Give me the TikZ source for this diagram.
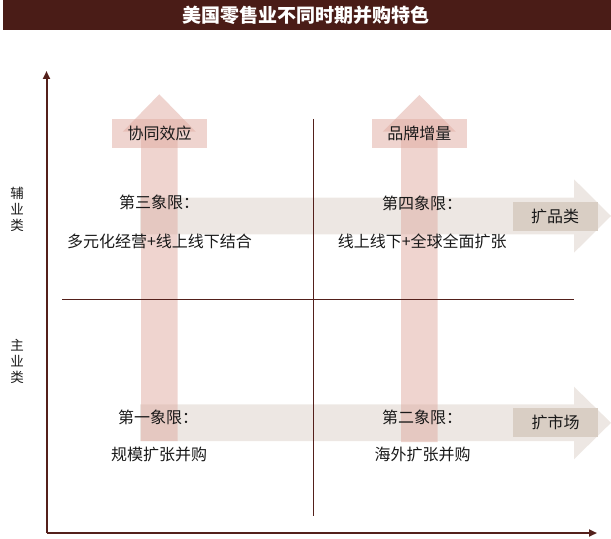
\documentclass[tikz,border=0pt]{standalone}
\usepackage{fontspec}
\setmainfont{Noto Sans CJK SC}
\usetikzlibrary{arrows.meta}
\definecolor{barbrown}{RGB}{74,28,23}
\definecolor{axisbrown}{RGB}{84,32,27}
\definecolor{shaftpink}{RGB}{223,170,160}
\definecolor{bandbeige}{RGB}{219,208,199}
\definecolor{tagbeige}{RGB}{217,206,196}
\definecolor{txtgray}{RGB}{25,25,25}

\tikzset{
  upshaft/.style={fill=shaftpink, fill opacity=0.5},
  band/.style={fill=bandbeige, fill opacity=0.5},
  pinktag/.style={fill=shaftpink, fill opacity=0.5, text opacity=1, inner sep=0pt,
    minimum width=95bp, minimum height=28.5bp, font=\fontsize{16bp}{18bp}\selectfont, text=txtgray},
  beigetag/.style={fill=tagbeige, inner sep=0pt,
    minimum width=85bp, minimum height=29.5bp, font=\fontsize{16bp}{18bp}\selectfont, text=txtgray},
  quad/.style={inner sep=0pt, font=\fontsize{16bp}{18bp}\selectfont, text=txtgray},
  sidelabel/.style={inner sep=0pt, align=center, font=\fontsize{13.5bp}{16bp}\selectfont, text=txtgray},
  axis/.style={draw=axisbrown, line width=2bp, -{Triangle[length=8bp,width=7bp]}},
  divider/.style={draw=axisbrown, line width=1bp}
}

\begin{document}
\begin{tikzpicture}[x=1bp, y=-1bp]
    \useasboundingbox (0,0) rectangle (611,539);

    % タイトル
    \fill[barbrown] (3,0) rectangle (611,30);
    \node[text=white, font=\fontsize{19bp}{21bp}\selectfont\bfseries] (title) at (306,15) {美国零售业不同时期并购特色};

    % 横方向の帯
    \fill[band] (140,197.7) -- (574,197.7) -- (574,179.3) -- (611,216) -- (574,252.7) -- (574,234.3) -- (140,234.3) -- cycle;
    \fill[band] (140,404.3) -- (574,404.3) -- (574,386.7) -- (611,422.8) -- (574,459.3) -- (574,441) -- (140,441) -- cycle;

    % 縦方向の矢印
    \fill[upshaft] (141,441) -- (141,131.7) -- (122.7,131.7) -- (159.3,94.3) -- (195.8,131.7) -- (177.7,131.7) -- (177.7,441) -- cycle;
    \fill[upshaft] (401,442) -- (401,131.7) -- (382.7,131.7) -- (419.3,95) -- (455.8,131.7) -- (437.7,131.7) -- (437.7,442) -- cycle;

    % ラベル
    \node[pinktag] (synergy) at (159.5,133.5) {协同效应};
    \node[pinktag] (brand) at (419.3,133.5) {品牌增量};
    \node[beigetag] (category) at (555.2,216.3) {扩品类};
    \node[beigetag] (market) at (555.5,422.5) {扩市场};

    % 軸
    \coordinate (O) at (46.5,533);
    \coordinate (ytip) at (46.5,71);
    \coordinate (xtip) at (597,533);
    \draw[axis] (O) -- (ytip);
    \draw[axis] (O) -- (xtip);

    % 区切り線
    \coordinate (vtop) at (313.3,119);
    \coordinate (vbot) at (313.3,516);
    \coordinate (hleft) at (62,299);
    \coordinate (hright) at (574,299);
    \draw[divider] (vtop) -- (vbot);
    \draw[divider] (hleft) -- (hright);

    % 縦軸ラベル
    \node[sidelabel] (aux) at (17,209) {辅\\业\\类};
    \node[sidelabel] (main) at (17,361) {主\\业\\类};

    % 象限
    \node[quad, anchor=west] (q3) at (119,202.5) {第三象限：};
    \node[quad] (q3txt) at (159.5,241.7) {多元化经营+线上线下结合};
    \node[quad, anchor=west] (q4) at (382,203.5) {第四象限：};
    \node[quad] (q4txt) at (422.3,241.7) {线上线下+全球全面扩张};
    \node[quad, anchor=west] (q1) at (118,417) {第一象限：};
    \node[quad] (q1txt) at (159,454) {规模扩张并购};
    \node[quad, anchor=west] (q2) at (382,417) {第二象限：};
    \node[quad] (q2txt) at (422.7,454) {海外扩张并购};
  \end{tikzpicture}
\end{document}
